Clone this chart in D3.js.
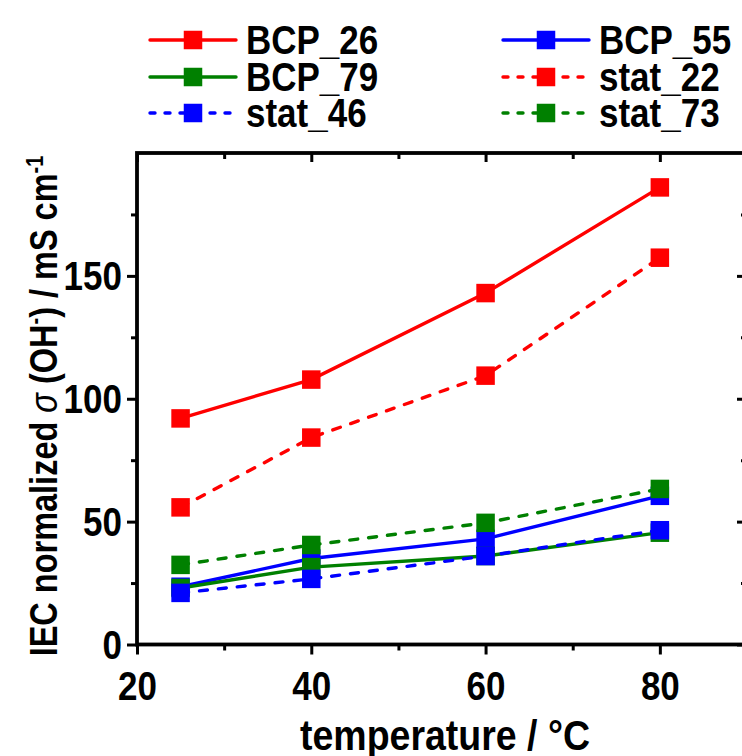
<!DOCTYPE html>
<html>
<head>
<meta charset="utf-8">
<script src="https://cdn.jsdelivr.net/npm/d3@7"></script>
<style>
  body { margin: 0; background: #fff; }
  svg { display: block; }
  text { font-family: "Liberation Sans", Arial, sans-serif; font-weight: bold; fill: #000; }
</style>
</head>
<body>
<div class="chart"></div>
<script>
// data
var temperatures = [25, 40, 60, 80];
var seriesNames = ['BCP_26', 'BCP_55', 'BCP_79', 'stat_22', 'stat_46', 'stat_73'];
var bcp26 = [92, 107.8, 143, 186];
var bcp55 = [23.5, 35, 43, 60.5];
var bcp79 = [23, 31.5, 36, 45.5];
var stat22 = [55.8, 84.2, 109.4, 157.4];
var stat46 = [21, 26.7, 36, 46.5];
var stat73 = [32.4, 40.5, 49.5, 63.3];
var xMajorTicks = [20, 40, 60, 80];
var xMinorTicks = [30, 50, 70];
var yMajorTicks = [0, 50, 100, 150];
var yMinorTicks = [25, 75, 125, 175];

var seriesValues = [bcp26, bcp55, bcp79, stat22, stat46, stat73];
var seriesColors = ['#ff0000', '#0000ff', '#008000', '#ff0000', '#0000ff', '#008000'];
var seriesDashed = [false, false, false, true, true, true];

var series = seriesNames.map(function (name, i) {
    return {
        name: name,
        color: seriesColors[i],
        dashed: seriesDashed[i],
        points: temperatures.map(function (t, j) { return { x: t, y: seriesValues[i][j] }; })
    };
});

var W = 742, H = 756;
var margin = { top: 153, right: -5, bottom: 111.5, left: 137 };
var width = W - margin.left - margin.right;
var height = H - margin.top - margin.bottom;
var stretch = 1.15; // the original lettering is tall and narrow

var svg = d3.select('.chart')
    .append('svg')
    .attr('width', W)
    .attr('height', H);

var g = svg.append('g')
    .attr('transform', 'translate(' + margin.left + ',' + margin.top + ')');

var xScale = d3.scaleLinear().domain([20, 90]).range([0, width]);
var yScale = d3.scaleLinear().domain([0, 200]).range([height, 0]);

/**
 * Axes (bottom/left ticks outward, top/right ticks inward)
 */
function styleAxis(sel) {
    sel.select('.domain').remove();
    sel.selectAll('line').attr('stroke', '#000').attr('stroke-width', 3);
    sel.selectAll('text').style('font-size', '35px').attr('fill', '#000');
}

g.append('g')
    .attr('transform', 'translate(0,' + height + ')')
    .call(d3.axisBottom(xScale).tickValues(xMajorTicks).tickSize(10).tickFormat(d3.format('d')))
    .call(styleAxis)
    .selectAll('text')
    .attr('y', 0).attr('dy', null)
    .attr('transform', 'translate(0,55) scale(1,' + stretch + ')');
g.append('g')
    .attr('transform', 'translate(0,' + height + ')')
    .call(d3.axisBottom(xScale).tickValues(xMinorTicks).tickSize(6).tickFormat(''))
    .call(styleAxis);
g.append('g')
    .call(d3.axisTop(xScale).tickValues(xMajorTicks).tickSize(-9).tickFormat(''))
    .call(styleAxis);
g.append('g')
    .call(d3.axisTop(xScale).tickValues(xMinorTicks).tickSize(-6).tickFormat(''))
    .call(styleAxis);

g.append('g')
    .call(d3.axisLeft(yScale).tickValues(yMajorTicks).tickSize(10).tickFormat(d3.format('d')))
    .call(styleAxis)
    .selectAll('text')
    .attr('x', 0).attr('dy', null)
    .attr('transform', 'translate(-15,14) scale(1,' + stretch + ')');
g.append('g')
    .call(d3.axisLeft(yScale).tickValues(yMinorTicks).tickSize(6).tickFormat(''))
    .call(styleAxis);
g.append('g')
    .attr('transform', 'translate(' + width + ',0)')
    .call(d3.axisRight(yScale).tickValues(yMajorTicks).tickSize(-10).tickFormat(''))
    .call(styleAxis);
g.append('g')
    .attr('transform', 'translate(' + width + ',0)')
    .call(d3.axisRight(yScale).tickValues(yMinorTicks).tickSize(-6).tickFormat(''))
    .call(styleAxis);

// frame
g.append('rect')
    .attr('x', 0).attr('y', 0)
    .attr('width', width).attr('height', height)
    .attr('fill', 'none')
    .attr('stroke', '#000')
    .attr('stroke-width', 3.8);

/**
 * Series: line then square markers
 */
var line = d3.line().x(d => xScale(d.x)).y(d => yScale(d.y));
var mk = 18.5;

series.forEach(function (s) {
    g.append('path')
        .datum(s.points)
        .attr('d', line)
        .attr('fill', 'none')
        .attr('stroke', s.color)
        .attr('stroke-width', 3.4)
        .attr('stroke-linecap', s.dashed ? 'round' : 'butt')
        .attr('stroke-dasharray', s.dashed ? '8,11' : null);

    g.selectAll('.m-' + s.name)
        .data(s.points)
        .enter()
        .append('rect')
        .attr('x', d => xScale(d.x) - mk / 2)
        .attr('y', d => yScale(d.y) - mk / 2)
        .attr('width', mk)
        .attr('height', mk)
        .attr('fill', s.color);
});

/**
 * Axis titles
 */
svg.append('text')
    .attr('transform', 'translate(445,750) scale(1,' + stretch + ')')
    .attr('text-anchor', 'middle')
    .style('font-size', '37.5px')
    .text('temperature / °C');

var yt = svg.append('text')
    .attr('transform', 'translate(57,406) rotate(-90) scale(1,1.2)')
    .attr('text-anchor', 'middle')
    .style('font-size', '32.5px');
yt.append('tspan').text('IEC normalized ');
yt.append('tspan').text('σ').style('font-style', 'italic').style('font-weight', 'normal');
yt.append('tspan').text(' (OH');
yt.append('tspan').text('-').attr('dy', -12).style('font-size', '20px');
yt.append('tspan').text(') / mS cm').attr('dy', 12);
yt.append('tspan').text('-1').attr('dy', -12).style('font-size', '20px');

/**
 * Legend (two columns, filled row by row)
 */
var legendCols = [150, 503];
var legendRows = [40, 77, 113];
var legend = svg.selectAll('.legend')
    .data(series)
    .enter()
    .append('g')
    .attr('class', 'legend')
    .attr('transform', (d, i) => 'translate(' + legendCols[i % 2] + ',' + legendRows[Math.floor(i / 2)] + ')');

legend.append('line')
    .attr('x1', 0).attr('x2', 86)
    .attr('y1', 0).attr('y2', 0)
    .attr('stroke', d => d.color)
    .attr('stroke-width', 3.4)
    .attr('stroke-linecap', 'round')
    .attr('stroke-dasharray', d => d.dashed ? '5,10' : null);

legend.append('rect')
    .attr('x', 43 - mk / 2).attr('y', -mk / 2)
    .attr('width', mk).attr('height', mk)
    .attr('fill', d => d.color);

legend.append('text')
    .attr('transform', 'translate(96,14) scale(1,' + stretch + ')')
    .style('font-size', '35px')
    .text(d => d.name);
</script>
</body>
</html>
